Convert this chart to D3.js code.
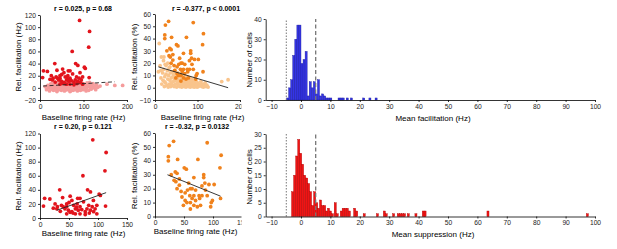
<!DOCTYPE html>
<html>
<head>
<meta charset="utf-8">
<script src="https://cdn.jsdelivr.net/npm/d3@7"></script>
<style>
  body { margin: 0; background: #fff; }
  svg { display: block; font-family: "Liberation Sans", Arial, sans-serif; }
</style>
</head>
<body>
<svg id="chart" width="617" height="249"></svg>
<script>
// ---- data ----
// facilitated cells: [baseline rate (Hz), rel. facilitation (Hz)]
const facHzPts = [[91,111],[114,93],[112,67],[74,60],[34,40],[82,40],[87,37],[102,34],[8,28],[39,29],
  [52,31],[65,28],[69,28],[92,25],[104,32],[113,17],[6,17],[37,18],[40,16],[43,13],[46,20],[55,25],
  [58,18],[61,13],[49,11],[55,9],[64,20],[69,16],[75,23],[78,9],[81,13],[84,18],[87,11],[90,16],
  [92.5,9],[95,13],[98,6],[46,6],[52,8],[61,6],[69,6],[78,5],[35,9.5],[29,13],[23,14],[26,20],
  [46,16],[66,11],[98,18],[57,7],[72,12],[85,7],[30,16],[63,15],[50,22],[17,27]];
// facilitated cells: [baseline rate (Hz), rel. facilitation (%)]
const facPctPts = [[23,43],[24.5,51],[32,54],[23,40],[39,41],[35,32],[38,31],[36,25],[38,20],[42,22.5],
  [46.5,14],[50.5,35],[54,34],[58,24],[61,20],[60,15],[52,11.5],[55,10],[61,10],[64,13],[67,15],
  [70,11.5],[73,7],[77,13],[67,28],[74,41],[81,22],[84,28],[84,30],[87,19],[90,15],[93,23],[90,53],
  [97,10],[96,7],[99,11.5],[102,23],[112,35],[114,44],[113,13],[78.5,8],[81,15],[49,8],[56,19],
  [45,18],[42,27],[64,20],[70,19],[76,15],[67,8],[61,5.4],[33,26],[28,30],[52,17],[86,24]];
// all other cells, rel. facilitation (Hz)
const otherHzPts = [[12,2],[15,-3],[18,4],[20,0],[22,-5],[24,6],[25,2],[27,-2],[28,8],[30,3],[31,-4],
  [33,1],[34,5],[35,-1],[36,7],[38,2],[39,-6],[40,4],[41,0],[42,9],[43,-3],[44,3],[45,6],[46,-1],
  [47,1],[48,8],[49,-4],[50,2],[51,5],[52,-2],[53,7],[54,0],[55,3],[56,-5],[57,9],[58,1],[59,4],
  [60,-2],[61,6],[62,2],[63,-3],[64,8],[65,0],[66,5],[67,-1],[68,3],[69,-6],[70,7],[71,1],[72,4],
  [73,-2],[74,9],[75,2],[76,-4],[77,6],[78,0],[79,3],[80,-3],[81,8],[82,1],[83,5],[84,-1],[85,4],
  [86,-5],[87,7],[88,2],[89,-2],[90,6],[91,0],[92,3],[93,-4],[94,9],[95,1],[96,5],[97,-1],[98,3],
  [99,-3],[100,7],[102,2],[104,-2],[105,5],[107,0],[108,8],[110,3],[112,-4],[113,6],[115,1],[117,4],
  [118,-2],[120,2],[122,7],[124,0],[126,3],[128,-3],[130,5],[133,1],[138,3],[154,6],[172,4],[190,4],
  [30,6],[44,-2],[58,-4],[62,5],[66,8],[72,-3],[76,3],[84,7],[90,-3],[96,2],[106,-5],[114,9],
  [36,-3],[52,10],[78,10],[88,5],[70,-5],[60,9],[100,-1],[48,4]];
// all other cells, rel. facilitation (%)
const otherPctPts = [[8,13],[10,36],[12,18],[14,8],[15,25],[16,3],[18,12],[19,6],[20,15],[22,1],[23,9],
  [24,19],[25,4],[26,11],[28,2],[29,14],[30,7],[31,0.5],[32,10],[33,16],[34,3],[35,6],[36,12],[37,1],
  [38,8],[39,4],[40,13],[41,2],[42,9],[43,5],[44,11],[45,1],[46,7],[47,14],[48,3],[49,6],[50,10],
  [51,0.5],[52,8],[53,4],[54,12],[55,2],[56,6],[57,9],[58,1],[59,5],[60,11],[61,3],[62,7],[63,0.5],
  [64,9],[65,4],[66,2],[67,6],[68,10],[69,1],[70,5],[71,8],[72,3],[73,0.5],[74,7],[75,4],[76,2],
  [77,9],[78,5],[79,1],[80,6],[81,3],[82,8],[83,0.5],[84,4],[85,2],[86,7],[87,5],[88,1],[89,3],
  [90,6],[91,2],[92,0.5],[93,4],[94,8],[95,1],[96,3],[97,5],[98,2],[99,0.5],[100,4],[102,1],[104,3],
  [106,2],[108,5],[110,1],[112,3],[114,0.5],[116,2],[118,4],[120,1],[122,2],[125,0.5],[157,5],
  [172,6.5],[20,22],[26,18],[14,14],[30,20],[22,5],[35,17],[21,25]];
// regression lines [[x1,y1],[x2,y2]]
const fitA = [[7,3],[172,10]];
const fitB = [[8,17],[172,0]];
const fitC = [[29,11],[114,36]];
const fitD = [[21.5,30],[113,14.6]];

// histograms: bin centres and counts
const binWidth = 0.7;
const facBinX = [-4.55,-3.85,-3.15,-2.45,-1.75,-1.05,-0.35,0.35,1.05,1.75,2.45,3.15,3.85,4.55,5.25,5.95,
  6.65,7.35,8.05,8.75,9.45,10.15,12.95,13.65,14.35,15.75,17.15,21.35,23.45,25.55];
const facBinN = [1,6,10,22,30,37,37,18,20,24,2,9,6,9,3,10,2,3,2,1,1,1,1,1,1,1,1,1,1,1];
const supBinX = [-2.85,-2.15,-1.45,-0.75,-0.1,0.55,1.25,1.95,2.6,3.25,3.95,4.65,5.35,6.0,6.65,7.35,8.05,
  8.7,9.35,10.0,10.7,11.65,12.35,13.7,14.35,15.05,15.75,16.45,18.25,18.95,21.5,26.0,28.35,29.0,31.5,
  33.1,33.8,34.5,35.2,36.5,39.1,41.6,42.2,63.6,97.4];
const supBinN = [9,15,22,28,23,19,15,14,12,9,4,9,5,3,6,4,4,2,3,2,1,5,1,2,3,3,3,2,3,2,1,1,2,1,1,
  1,1,1,1,1,1,2,2,2,1];
const refLines = [-5, 5];

const svg = d3.select("#chart");
const tickFont = "6.7px";
const labFont = "8px";

svg.append("defs").append("clipPath").attr("id", "cut")
  .append("rect").attr("x", 0).attr("y", 0).attr("width", 241.5).attr("height", 249);

function styleAxis(sel) {
  sel.select(".domain").attr("stroke", "#000").attr("stroke-width", 0.8);
  sel.selectAll(".tick line").attr("stroke", "#000").attr("stroke-width", 0.8);
  sel.selectAll(".tick text").style("font-size", tickFont).attr("fill", "#222");
}

function scatter(o) {
  const x = d3.scaleLinear().domain(o.xDom).range([o.left, o.right]);
  const y = d3.scaleLinear().domain(o.yDom).range([o.bottom, o.top]);
  const g = svg.append("g");
  if (o.clip) g.attr("clip-path", "url(#cut)");

  o.layers.forEach(L => {
    g.append("g").selectAll("circle")
      .data(L.pts)
      .join("circle")
      .attr("cx", d => x(d[0]))
      .attr("cy", d => y(d[1]))
      .attr("r", 1.9)
      .attr("fill", L.color);
  });

  g.append("line")
    .attr("x1", x(o.fit[0][0])).attr("y1", y(o.fit[0][1]))
    .attr("x2", x(o.fit[1][0])).attr("y2", y(o.fit[1][1]))
    .attr("stroke", "#222").attr("stroke-width", 0.9)
    .attr("stroke-dasharray", o.dashed ? "4,2.5" : null);

  g.append("g").attr("transform", `translate(0,${o.bottom})`)
    .call(d3.axisBottom(x).tickValues(o.xTicks).tickSize(2).tickSizeOuter(0).tickPadding(2))
    .call(styleAxis);
  g.append("g").attr("transform", `translate(${o.left},0)`)
    .call(d3.axisLeft(y).tickValues(o.yTicks).tickSize(2).tickSizeOuter(0).tickPadding(2))
    .call(styleAxis);

  svg.append("text")
    .attr("x", o.titleX).attr("y", o.titleY)
    .attr("text-anchor", "middle")
    .style("font-size", "7px").style("font-weight", "bold")
    .text(o.title);
  svg.append("text")
    .attr("x", (o.left + o.right) / 2 + o.xLabDx).attr("y", o.xLabY)
    .attr("text-anchor", "middle").style("font-size", labFont)
    .text("Baseline firing rate (Hz)");
  svg.append("text")
    .attr("transform", `translate(${o.yLabX},${o.yLabY}) rotate(-90)`)
    .attr("text-anchor", "middle").style("font-size", labFont)
    .text(o.yLab);
}

function histo(o) {
  const x = d3.scaleLinear().domain([-12, 100]).range([265.7, 595]);
  const y = d3.scaleLinear().domain([0, o.yMax]).range([o.bottom, o.top]);
  const g = svg.append("g");

  g.selectAll("rect")
    .data(o.binX.map((c, i) => [c, o.binN[i]]))
    .join("rect")
    .attr("x", d => x(d[0] - binWidth / 2))
    .attr("width", d => x(d[0] + binWidth / 2) - x(d[0] - binWidth / 2))
    .attr("y", d => y(d[1]))
    .attr("height", d => y(0) - y(d[1]))
    .attr("fill", o.fill)
    .attr("stroke", o.edge)
    .attr("stroke-width", 0.4);

  g.selectAll("line.ref")
    .data(refLines)
    .join("line")
    .attr("class", "ref")
    .attr("x1", d => x(d)).attr("x2", d => x(d))
    .attr("y1", y(0)).attr("y2", y(o.yMax))
    .attr("stroke", "#777")
    .attr("stroke-width", d => d < 0 ? 1 : 1.3)
    .attr("stroke-dasharray", d => d < 0 ? "1.5,1.5" : "4,2.5");

  g.append("g").attr("transform", `translate(0,${o.bottom})`)
    .call(d3.axisBottom(x).tickValues(d3.range(-10, 101, 10)).tickSize(2).tickSizeOuter(0).tickPadding(2))
    .call(styleAxis);
  g.append("g").attr("transform", "translate(265.7,0)")
    .call(d3.axisLeft(y).tickValues(o.yTicks).tickSize(2).tickSizeOuter(0).tickPadding(2))
    .call(styleAxis);

  svg.append("text")
    .attr("x", 433).attr("y", o.xLabY)
    .attr("text-anchor", "middle").style("font-size", labFont)
    .text(o.xLab);
  svg.append("text")
    .attr("transform", `translate(252,${o.yLabY}) rotate(-90)`)
    .attr("text-anchor", "middle").style("font-size", labFont)
    .text("Number of cells");
}

// top-left
scatter({
  xDom: [0, 200], yDom: [-20, 120], left: 40, right: 127, top: 15, bottom: 100,
  xTicks: [0, 100, 200], yTicks: d3.range(-20, 121, 20),
  layers: [{ pts: otherHzPts, color: "#f59c9c" }, { pts: facHzPts, color: "#e2141c" }],
  fit: fitA, dashed: true,
  title: "r = 0.025, p = 0.68", titleX: 83, titleY: 11,
  xLabDx: 0, xLabY: 120, yLab: "Rel. facilitation (Hz)", yLabX: 21, yLabY: 57
});
// top-middle
scatter({
  xDom: [0, 200], yDom: [-10, 60], left: 155, right: 240, top: 14, bottom: 100, clip: true,
  xTicks: [0, 100, 200], yTicks: d3.range(-10, 61, 10),
  layers: [{ pts: otherPctPts, color: "#f9c48c" }, { pts: facPctPts, color: "#f0821c" }],
  fit: fitB, dashed: false,
  title: "r = -0.377, p < 0.0001", titleX: 206, titleY: 11,
  xLabDx: 5, xLabY: 120, yLab: "Rel. facilitation (%)", yLabX: 137, yLabY: 57
});
// bottom-left
scatter({
  xDom: [0, 150], yDom: [0, 120], left: 40, right: 127, top: 133.5, bottom: 218,
  xTicks: [0, 50, 100, 150], yTicks: d3.range(0, 121, 20),
  layers: [{ pts: facHzPts, color: "#e2141c" }],
  fit: fitC, dashed: false,
  title: "r = 0.20, p = 0.121", titleX: 83, titleY: 129,
  xLabDx: 0, xLabY: 236, yLab: "Rel. facilitation (Hz)", yLabX: 21, yLabY: 176
});
// bottom-middle
scatter({
  xDom: [0, 150], yDom: [0, 60], left: 155, right: 242, top: 133, bottom: 216.5, clip: true,
  xTicks: [0, 50, 100, 150], yTicks: d3.range(0, 61, 10),
  layers: [{ pts: facPctPts, color: "#f0821c" }],
  fit: fitD, dashed: false,
  title: "r = -0.32, p = 0.0132", titleX: 197, titleY: 129,
  xLabDx: -3, xLabY: 234, yLab: "Rel. facilitation (%)", yLabX: 137, yLabY: 176
});

histo({
  binX: facBinX, binN: facBinN, yMax: 40, yTicks: [0, 10, 20, 30, 40],
  top: 19, bottom: 100, fill: "#3535e6", edge: "#1a1a9a",
  xLab: "Mean facilitation (Hz)", xLabY: 121, yLabY: 60
});
histo({
  binX: supBinX, binN: supBinN, yMax: 30, yTicks: [0, 5, 10, 15, 20, 25, 30],
  top: 134, bottom: 216.5, fill: "#f01414", edge: "#b00000",
  xLab: "Mean suppression (Hz)", xLabY: 237, yLabY: 177
});
</script>
</body>
</html>
